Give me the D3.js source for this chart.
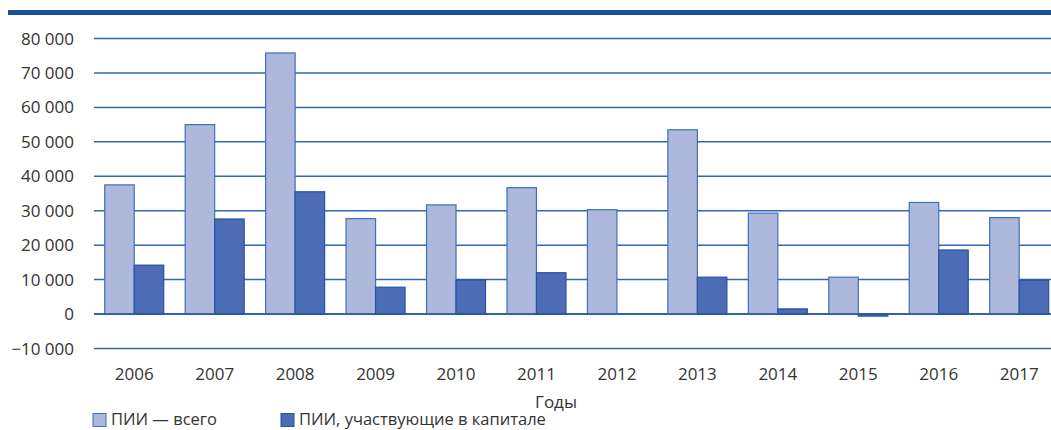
<!DOCTYPE html>
<html>
<head>
<meta charset="utf-8">
<script src="https://d3js.org/d3.v7.min.js"></script>
<style>
  body { margin: 0; background: #fff; }
  svg text { font-family: "Open Sans", "Noto Sans", sans-serif; fill: #333; }
</style>
</head>
<body>
<script>
// data
const years = ["2006","2007","2008","2009","2010","2011","2012","2013","2014","2015","2016","2017"];
const fdiTotal = [37500, 55000, 75800, 27700, 31700, 36700, 30300, 53500, 29300, 10700, 32400, 28000];
const fdiEquity = [14200, 27600, 35500, 7800, 9900, 12000, 0, 10700, 1500, -600, 18600, 9800];
const yTicks = [-10000, 0, 10000, 20000, 30000, 40000, 50000, 60000, 70000, 80000];
const seriesNames = ["ПИИ — всего", "ПИИ, участвующие в капитале"];

const width = 1051, height = 430;
const svg = d3.select("body").append("svg")
    .attr("width", width)
    .attr("height", height);

// top rule
svg.append("rect")
    .attr("x", 8).attr("y", 10)
    .attr("width", width - 8).attr("height", 5)
    .attr("fill", "#1b4f9e");

const x = d3.scaleBand()
    .domain(years)
    .range([94, 94 + 12 * 80.45])
    .paddingInner(0);

const y = d3.scaleLinear()
    .domain([-10000, 80000])
    .range([348.5, 38.5]);

const fmt = v => d3.format(",")(v).replace(/,/g, " ");

// gridlines
svg.selectAll(".grid")
    .data(yTicks)
    .join("line")
    .attr("x1", 94).attr("x2", width)
    .attr("y1", d => y(d)).attr("y2", d => y(d))
    .attr("stroke", "#2f67b2")
    .attr("stroke-width", 1.5);

svg.selectAll(".ylab")
    .data(yTicks)
    .join("text")
    .attr("x", 74)
    .attr("y", d => y(d) + 6)
    .attr("text-anchor", "end")
    .attr("font-size", 17)
    .text(d => fmt(d));

const barW = 29.5;
const colors = ["#aeb7dc", "#4e6cb5"];
const strokes = ["#3d70b9", "#2553a0"];

[fdiTotal, fdiEquity].forEach((vals, s) => {
  svg.selectAll(".bar" + s)
    .data(years.map((yr, i) => ({ yr, v: vals[i] })).filter(d => d.v !== 0))
    .join("rect")
    .attr("x", d => x(d.yr) + x.bandwidth() / 2 - barW + s * barW)
    .attr("y", d => y(Math.max(0, d.v)))
    .attr("width", barW)
    .attr("height", d => Math.abs(y(d.v) - y(0)))
    .attr("fill", colors[s])
    .attr("stroke", strokes[s])
    .attr("stroke-width", 1.2);
});

// zero line over bars
svg.append("line")
    .attr("x1", 94).attr("x2", width)
    .attr("y1", y(0)).attr("y2", y(0))
    .attr("stroke", "#1f59a8").attr("stroke-width", 1.5);

svg.selectAll(".xlab")
    .data(years)
    .join("text")
    .attr("x", d => x(d) + x.bandwidth() / 2)
    .attr("y", 380)
    .attr("text-anchor", "middle")
    .attr("font-size", 17)
    .text(d => d);

svg.append("text")
    .attr("x", 556).attr("y", 408)
    .attr("text-anchor", "middle")
    .attr("font-size", 17)
    .text("Годы");

// legend
const legX = [93, 281];
seriesNames.forEach((name, s) => {
  svg.append("rect")
    .attr("x", legX[s]).attr("y", 413.5)
    .attr("width", 13).attr("height", 13)
    .attr("fill", colors[s])
    .attr("stroke", strokes[s]);
  svg.append("text")
    .attr("x", legX[s] + 18).attr("y", 425)
    .attr("font-size", 16.5)
    .text(name);
});
</script>
</body>
</html>
